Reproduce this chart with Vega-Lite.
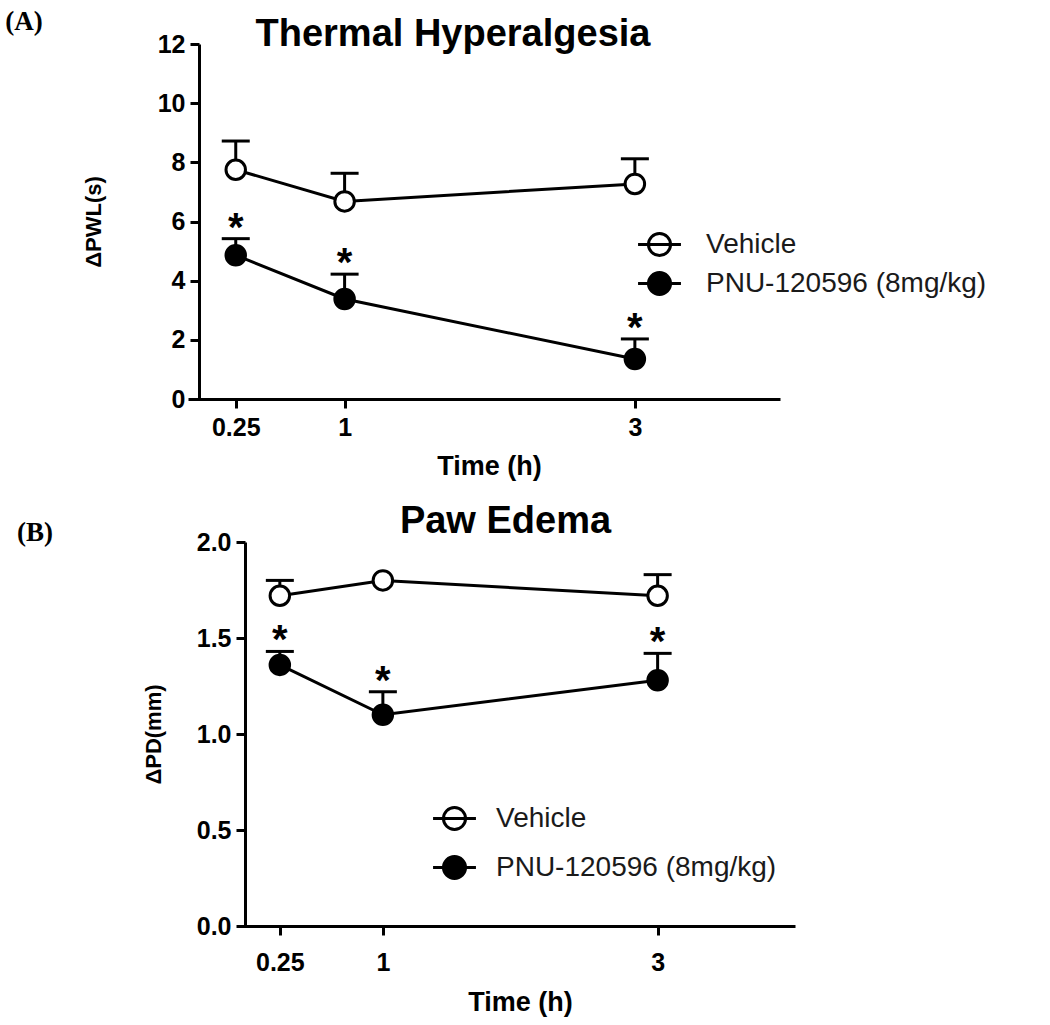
{
  "$schema": "https://vega.github.io/schema/vega-lite/v6.json",
  "background": "white",
  "padding": {"left": 5, "top": 8, "right": 5, "bottom": 5},
  "config": {
    "view": {"stroke": null},
    "font": "Liberation Sans",
    "axis": {
      "grid": false, "domainColor": "black", "domainWidth": 3, "tickColor": "black", "tickWidth": 3, "tickSize": 9,
      "labelFont": "Liberation Sans", "labelFontWeight": "bold", "labelFontSize": 25, "labelColor": "black",
      "titleFont": "Liberation Sans", "titleFontWeight": "bold", "titleColor": "black"
    },
    "legend": {
      "orient": "none", "padding": 0, "labelLimit": 0,
      "symbolType": "M-1.34,0L1.34,0M-0.69,0A0.69,0.69,0,1,1,0.69,0A0.69,0.69,0,1,1,-0.69,0Z",
      "symbolSize": 1024, "symbolStrokeColor": "black", "symbolStrokeWidth": 3,
      "labelFont": "Liberation Sans", "labelFontSize": 28, "labelColor": "#1a1a1a"
    },
    "title": {"font": "Liberation Sans", "fontWeight": "bold", "fontSize": 38, "color": "black"}
  },
  "datasets": {
    "thermal": [
      {"time": 0.25, "group": "Vehicle", "mean": 7.75, "upper": 8.72},
      {"time": 1, "group": "Vehicle", "mean": 6.68, "upper": 7.63},
      {"time": 3, "group": "Vehicle", "mean": 7.27, "upper": 8.12},
      {"time": 0.25, "group": "PNU-120596 (8mg/kg)", "mean": 4.86, "upper": 5.42, "sig": "*"},
      {"time": 1, "group": "PNU-120596 (8mg/kg)", "mean": 3.38, "upper": 4.22, "sig": "*"},
      {"time": 3, "group": "PNU-120596 (8mg/kg)", "mean": 1.35, "upper": 2.03, "sig": "*"}
    ],
    "edema": [
      {"time": 0.25, "group": "Vehicle", "mean": 1.72, "upper": 1.80},
      {"time": 1, "group": "Vehicle", "mean": 1.80},
      {"time": 3, "group": "Vehicle", "mean": 1.72, "upper": 1.83},
      {"time": 0.25, "group": "PNU-120596 (8mg/kg)", "mean": 1.36, "upper": 1.43, "sig": "*"},
      {"time": 1, "group": "PNU-120596 (8mg/kg)", "mean": 1.10, "upper": 1.22, "sig": "*"},
      {"time": 3, "group": "PNU-120596 (8mg/kg)", "mean": 1.28, "upper": 1.42, "sig": "*"}
    ]
  },
  "vconcat": [
    {
      "width": 592, "height": 355,
      "title": {"text": "Thermal Hyperalgesia", "anchor": "middle", "frame": "group", "baseline": "alphabetic", "offset": -76, "dx": -31},
      "data": {"name": "thermal"},
      "encoding": {
        "x": {"field": "time", "type": "quantitative", "scale": {"domain": [-0.079, 4], "nice": false, "zero": false},
          "axis": {"values": [0.25, 1, 3], "format": ".2~f", "title": "Time (h)", "titleFontSize": 27, "titleX": 301, "titlePadding": 13, "labelPadding": 7}},
        "y": {"field": "mean", "type": "quantitative", "scale": {"domain": [0, 12], "nice": false},
          "axis": {"values": [0, 2, 4, 6, 8, 10, 12], "title": "ΔPWL(s)", "titleFontSize": 22, "offset": -11, "labelPadding": 5, "titlePadding": 52}}
      },
      "layer": [
        {"mark": {"type": "line", "color": "black", "strokeWidth": 3}, "encoding": {"detail": {"field": "group"}}},
        {"transform": [{"filter": "datum.upper != null"}], "mark": {"type": "rule", "color": "black", "strokeWidth": 3}, "encoding": {"y2": {"field": "upper"}}},
        {"transform": [{"filter": "datum.upper != null"}], "mark": {"type": "tick", "orient": "horizontal", "color": "black", "size": 28, "thickness": 3, "opacity": 1}, "encoding": {"y": {"field": "upper", "type": "quantitative", "title": "ΔPWL(s)"}}},
        {"mark": {"type": "point", "shape": "circle", "filled": true, "size": 380, "stroke": "black", "strokeWidth": 3, "opacity": 1},
          "encoding": {"fill": {"field": "group", "type": "nominal", "scale": {"domain": ["Vehicle", "PNU-120596 (8mg/kg)"], "range": ["white", "black"]},
            "legend": {"title": null, "orient": "none", "legendX": 454, "legendY": 183, "rowPadding": 4, "labelOffset": 29}}}},
        {"transform": [{"filter": "datum.sig == '*'"}], "mark": {"type": "text", "fontSize": 40, "fontWeight": "bold", "dy": 2, "baseline": "alphabetic", "color": "black"},
          "encoding": {"y": {"field": "upper", "type": "quantitative", "title": "ΔPWL(s)"}, "text": {"field": "sig"}}},
        {"transform": [{"filter": "datum.time == 0.25 && datum.group == 'Vehicle'"}], "mark": {"type": "text", "font": "Liberation Serif", "fontWeight": "bold", "fontSize": 27, "color": "black", "baseline": "middle", "align": "center", "text": "(A)"},
          "encoding": {"x": {"datum": -1.209}, "y": {"datum": 12.74}}}
      ]
    },
    {
      "width": 607, "height": 384,
      "title": {"text": "Paw Edema", "anchor": "middle", "frame": "group", "baseline": "alphabetic", "offset": -52, "dx": 14},
      "data": {"name": "edema"},
      "encoding": {
        "x": {"field": "time", "type": "quantitative", "scale": {"domain": [-0.4185, 4], "nice": false, "zero": false},
          "axis": {"values": [0.25, 1, 3], "format": ".2~f", "title": "Time (h)", "titleFontSize": 27, "titleX": 332, "titlePadding": 14, "labelPadding": 15, "domainDash": [0, 49, 2000]}},
        "y": {"field": "mean", "type": "quantitative", "scale": {"domain": [0, 2], "nice": false},
          "axis": {"values": [0, 0.5, 1, 1.5, 2], "format": ".1f", "title": "ΔPD(mm)", "titleFontSize": 22, "offset": -57, "labelPadding": 5, "titlePadding": 31}}
      },
      "layer": [
        {"mark": {"type": "line", "color": "black", "strokeWidth": 3}, "encoding": {"detail": {"field": "group"}}},
        {"transform": [{"filter": "datum.upper != null"}], "mark": {"type": "rule", "color": "black", "strokeWidth": 3}, "encoding": {"y2": {"field": "upper"}}},
        {"transform": [{"filter": "datum.upper != null"}], "mark": {"type": "tick", "orient": "horizontal", "color": "black", "size": 28, "thickness": 3, "opacity": 1}, "encoding": {"y": {"field": "upper", "type": "quantitative", "title": "ΔPD(mm)"}}},
        {"mark": {"type": "point", "shape": "circle", "filled": true, "size": 380, "stroke": "black", "strokeWidth": 3, "opacity": 1},
          "encoding": {"fill": {"field": "group", "type": "nominal", "scale": {"domain": ["Vehicle", "PNU-120596 (8mg/kg)"], "range": ["white", "black"]},
            "legend": {"title": null, "orient": "none", "legendX": 249, "legendY": 259, "rowPadding": 14, "labelOffset": 24}}}},
        {"transform": [{"filter": "datum.sig == '*'"}], "mark": {"type": "text", "fontSize": 40, "fontWeight": "bold", "dy": 2, "baseline": "alphabetic", "color": "black"},
          "encoding": {"y": {"field": "upper", "type": "quantitative", "title": "ΔPD(mm)"}, "text": {"field": "sig"}}},
        {"transform": [{"filter": "datum.time == 0.25 && datum.group == 'Vehicle'"}], "mark": {"type": "text", "font": "Liberation Serif", "fontWeight": "bold", "fontSize": 27, "color": "black", "baseline": "middle", "align": "center", "text": "(B)"},
          "encoding": {"x": {"datum": -1.532}, "y": {"datum": 2.047}}}
      ]
    }
  ],
  "spacing": 143,
  "bounds": "flush",
  "resolve": {"scale": {"x": "independent", "y": "independent", "fill": "independent"}, "legend": {"fill": "independent"}}
}
